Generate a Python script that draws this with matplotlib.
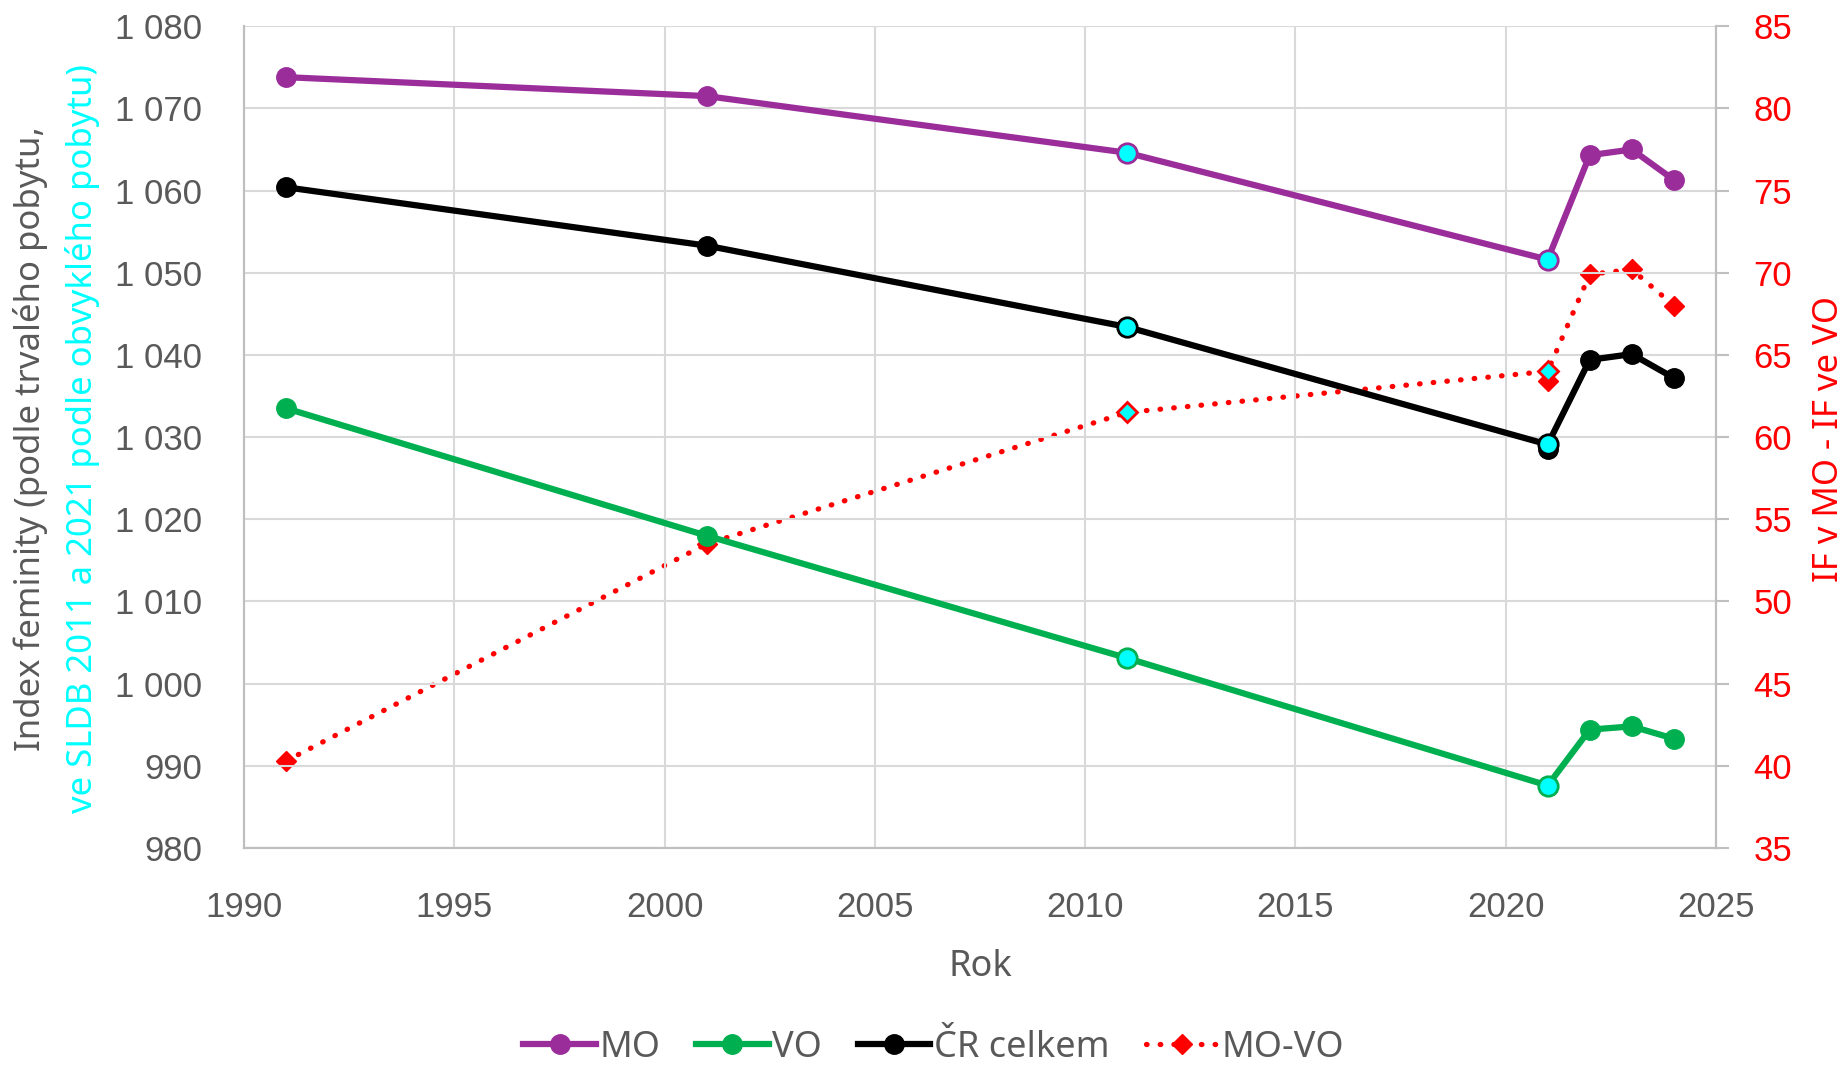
import matplotlib
matplotlib.use("Agg")
import matplotlib.pyplot as plt
from matplotlib.lines import Line2D
from matplotlib.ticker import FuncFormatter

# data (census years 2011 and 2021 = obvyklý pobyt)
years = [1991, 2001, 2011, 2021, 2022, 2023, 2024]
mo = [1073.8, 1071.5, 1064.6, 1051.6, 1064.3, 1065.0, 1061.3]
vo = [1033.5, 1018.0, 1003.1, 987.6, 994.4, 994.8, 993.3]
cr = [1060.4, 1053.3, 1043.4, 1029.1, 1039.4, 1040.1, 1037.2]
mo_vo = [40.3, 53.5, 61.5, 64.0, 69.9, 70.2, 68.0]
census_years = [2011, 2021]
# 2021 podle trvalého pobytu
perm_year = 2021
cr_perm = 1028.6
mo_vo_perm = 63.4

c_mo = "#9B2D9B"
c_vo = "#00B050"
c_cr = "#000000"
c_red = "#FF0000"
c_cyan = "#00FFFF"
c_grid = "#D9D9D9"
c_txt = "#595959"

tick_font = "Liberation Sans"
txt_font = "Noto Sans"

fig = plt.figure(figsize=(18.49, 10.70), dpi=100)
ax = fig.add_axes([0.132, 0.2075, 0.796, 0.768])
ax2 = ax.twinx()

ax.set_zorder(2)
ax.patch.set_visible(False)

lw = 4.5
ms = 14
dot_ls = (0, (0.1, 2.5))

def cen(ys):
    return [ys[years.index(y)] for y in census_years]

# main series
ax.plot(years, mo, color=c_mo, lw=lw, marker="o", ms=ms, zorder=3)
ax.plot(years, vo, color=c_vo, lw=lw, marker="o", ms=ms, zorder=3)
ax.plot([perm_year], [cr_perm], color=c_cr, marker="o", ms=ms, ls="none", zorder=3)
ax.plot(years, cr, color=c_cr, lw=lw, marker="o", ms=ms, zorder=3)

# census points
ax.plot(census_years, cen(mo), ls="none", marker="o", ms=ms, mfc=c_cyan, mec=c_mo, mew=2, zorder=4)
ax.plot(census_years, cen(vo), ls="none", marker="o", ms=ms, mfc=c_cyan, mec=c_vo, mew=2, zorder=4)
ax.plot(census_years, cen(cr), ls="none", marker="o", ms=ms, mfc=c_cyan, mec=c_cr, mew=2, zorder=4)

# difference on right axis
ax2.plot(years, mo_vo, color=c_red, lw=3.8, ls=dot_ls, dash_capstyle="round",
         marker="D", ms=10, zorder=3)
ax2.plot([perm_year], [mo_vo_perm], ls="none", marker="D", ms=10, color=c_red, zorder=3)
ax2.plot(census_years, cen(mo_vo), ls="none", marker="D", ms=10, mfc=c_cyan, mec=c_red,
         mew=2, zorder=4)

ax.set_xlim(1990, 2025)
ax.set_ylim(980, 1080)
ax2.set_ylim(35, 85)
ax.set_xticks(range(1990, 2026, 5))
ax.set_yticks(range(980, 1081, 10))
ax2.set_yticks(range(35, 86, 5))
ax.yaxis.set_major_formatter(FuncFormatter(lambda v, p: f"{int(v):,}".replace(",", " ")))

ax.grid(True, color=c_grid, lw=1.5)
ax.set_axisbelow(True)
for a in (ax, ax2):
    a.spines["top"].set_visible(False)
    for s in ("left", "right", "bottom"):
        a.spines[s].set_color("#BFBFBF")
        a.spines[s].set_linewidth(1.5)

ax.tick_params(axis="y", length=0, pad=30, labelsize=25, labelcolor=c_txt)
ax.tick_params(axis="x", length=0, pad=31, labelsize=25, labelcolor=c_txt)
ax2.tick_params(axis="y", length=9, width=1.5, color="#BFBFBF", pad=18, labelsize=25,
                labelcolor=c_red)
for lab in ax.get_xticklabels() + ax.get_yticklabels() + ax2.get_yticklabels():
    lab.set_fontfamily(tick_font)

ax.set_xlabel("Rok", fontsize=26, color=c_txt, family=txt_font, labelpad=18)

# y axis titles
fig.text(0.0165, 0.59, "Index feminity (podle trvalého pobytu,", rotation=90, ha="center",
         va="center", fontsize=25, color=c_txt, family=txt_font)
fig.text(0.0445, 0.59, "ve SLDB 2011 a 2021 podle obvyklého pobytu)", rotation=90,
         ha="center", va="center", fontsize=25, color=c_cyan, family=txt_font)
fig.text(0.989, 0.59, "IF v MO - IF ve VO", rotation=90, ha="center", va="center",
         fontsize=25, color=c_red, family=txt_font)

handles = [
    Line2D([], [], color=c_mo, lw=lw, marker="o", ms=ms),
    Line2D([], [], color=c_vo, lw=lw, marker="o", ms=ms),
    Line2D([], [], color=c_cr, lw=lw, marker="o", ms=ms),
    Line2D([], [], color=c_red, lw=3.8, ls=dot_ls, dash_capstyle="round",
           marker="D", ms=10),
]
fig.legend(handles, ["MO", "VO", "ČR celkem", "MO-VO"], loc="center",
           bbox_to_anchor=(0.505, 0.021), ncol=4, frameon=False, handlelength=2.0,
           handletextpad=0.1, columnspacing=1.0,
           prop={"family": txt_font, "size": 26}, labelcolor=c_txt)

fig.savefig("out.png", dpi=100)
